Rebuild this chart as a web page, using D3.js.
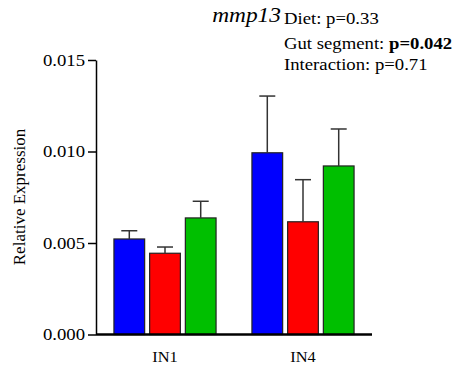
<!DOCTYPE html>
<html>
<head>
<meta charset="utf-8">
<script src="https://cdn.jsdelivr.net/npm/d3@7"></script>
<style>
  body { margin: 0; background: #fff; }
</style>
</head>
<body>
<div id="chart"></div>
<script>
// segments and the three diet groups
var segments = ["IN1", "IN4"];
var groups = ["g1", "g2", "g3"];
var colors = ["#0000ff", "#ff0000", "#00bf00"];

// mean and upper error (mean + sd) for each segment, in group order
var means = [[0.00522, 0.00444, 0.00637], [0.00993, 0.00616, 0.00921]];
var errTops = [[0.00567, 0.00478, 0.00728], [0.01303, 0.00846, 0.01123]];

var yTicks = [0, 0.005, 0.010, 0.015];

var width = 462, height = 369;
var sx = 1.17; // text in the original is a bit wider than Times
var serif = "'Liberation Serif', 'Times New Roman', Times, serif";

var svg = d3.select("#chart").append("svg")
    .attr("width", width)
    .attr("height", height);

//scales
var x0 = d3.scaleBand()
    .domain(segments)
    .range([96, 372])
    .paddingInner(0.26)
    .paddingOuter(0.13);
var x1 = d3.scaleBand()
    .domain(groups)
    .range([0, x0.bandwidth()])
    .paddingInner(0.14);
var y = d3.scaleLinear()
    .domain([0, 0.015])
    .range([334.5, 60]);

//bars
var seg = svg.selectAll(".seg")
    .data(segments)
    .enter().append("g")
    .attr("class", "seg")
    .attr("transform", function (d) { return "translate(" + x0(d) + ",0)"; });

seg.selectAll("rect")
    .data(function (d, i) {
        return groups.map(function (g, j) {
            return {g: g, j: j, v: means[i][j], e: errTops[i][j]};
        });
    })
    .enter().append("rect")
    .attr("x", function (d) { return x1(d.g); })
    .attr("width", x1.bandwidth())
    .attr("y", function (d) { return y(d.v); })
    .attr("height", function (d) { return y(0) - y(d.v); })
    .style("fill", function (d) { return colors[d.j]; })
    .style("stroke", "#222")
    .style("stroke-width", 1.2);

//error bars (upper only)
var err = seg.selectAll(".err")
    .data(function (d, i) {
        return groups.map(function (g, j) {
            return {g: g, v: means[i][j], e: errTops[i][j]};
        });
    })
    .enter().append("g")
    .attr("class", "err")
    .style("stroke", "#333")
    .style("stroke-width", 1.5);

err.append("line")
    .attr("x1", function (d) { return x1(d.g) + x1.bandwidth() / 2; })
    .attr("x2", function (d) { return x1(d.g) + x1.bandwidth() / 2; })
    .attr("y1", function (d) { return y(d.v); })
    .attr("y2", function (d) { return y(d.e); });

err.append("line")
    .attr("x1", function (d) { return x1(d.g) + x1.bandwidth() / 2 - 8; })
    .attr("x2", function (d) { return x1(d.g) + x1.bandwidth() / 2 + 8; })
    .attr("y1", function (d) { return y(d.e); })
    .attr("y2", function (d) { return y(d.e); });

//y axis
var yAxis = svg.append("g")
    .attr("transform", "translate(96,0)")
    .call(d3.axisLeft(y).tickValues(yTicks).tickFormat(d3.format(".3f")).tickSize(8).tickSizeOuter(0));
yAxis.attr("font-family", serif);
yAxis.select(".domain").style("stroke", "#000").style("stroke-width", 1.5);
yAxis.selectAll(".tick line").style("stroke", "#000").style("stroke-width", 1.5);
yAxis.selectAll(".tick text")
    .attr("x", 0)
    .attr("transform", "translate(-11,0) scale(" + sx + ",1)")
    .style("font-family", serif)
    .style("font-size", "16px")
    .style("fill", "#000");

//x axis
var xAxis = svg.append("g")
    .attr("transform", "translate(0,334.5)")
    .call(d3.axisBottom(x0).tickSize(0).tickSizeOuter(0));
xAxis.attr("font-family", serif);
xAxis.select(".domain").attr("d", "M96,0H372").style("stroke", "#000").style("stroke-width", 2.5);
xAxis.selectAll(".tick text")
    .attr("y", 0)
    .attr("transform", "translate(0,18) scale(" + sx + ",1)")
    .style("font-family", serif)
    .style("font-size", "14px")
    .style("fill", "#000");

//y label
svg.append("text")
    .attr("transform", "translate(25,197) rotate(-90)")
    .style("text-anchor", "middle")
    .style("font-family", serif)
    .style("font-size", "17px")
    .text("Relative Expression");

//title and stats
svg.append("text")
    .attr("transform", "translate(281,22) scale(" + sx + ",1)")
    .style("text-anchor", "end")
    .style("font-family", serif)
    .style("font-style", "italic")
    .style("font-size", "20px")
    .text("mmp13");

svg.append("text")
    .attr("transform", "translate(284,24) scale(" + sx + ",1)")
    .style("font-family", serif)
    .style("font-size", "16px")
    .text("Diet: p=0.33");

var gut = svg.append("text")
    .attr("transform", "translate(284,49) scale(" + sx + ",1)")
    .style("font-family", serif)
    .style("font-size", "16px");
gut.append("tspan").text("Gut segment: ");
gut.append("tspan").style("font-weight", "bold").text("p=0.042");

svg.append("text")
    .attr("transform", "translate(284,70) scale(" + sx + ",1)")
    .style("font-family", serif)
    .style("font-size", "16px")
    .text("Interaction: p=0.71");
</script>
</body>
</html>
